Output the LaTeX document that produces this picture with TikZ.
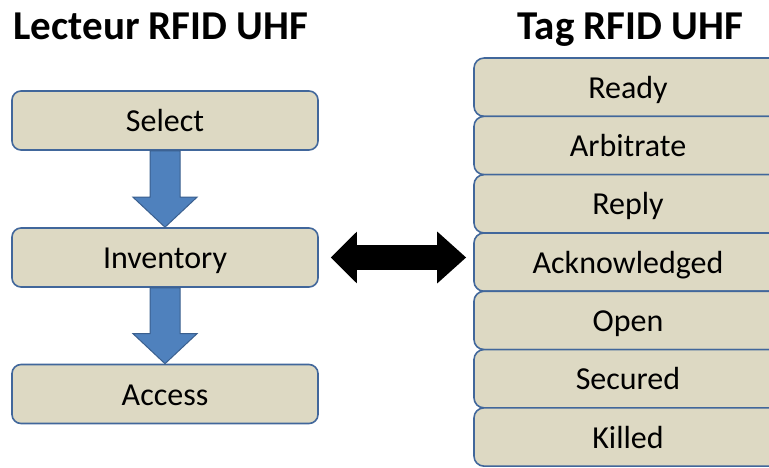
\documentclass[tikz,border=0pt]{standalone}
\usepackage{fontspec}
\setmainfont{Carlito}
\usetikzlibrary{calc,arrows.meta}

\definecolor{boxfill}{HTML}{DDD9C3}
\definecolor{boxline}{HTML}{41679B}
\definecolor{arrowfill}{HTML}{4F81BD}
\definecolor{arrowline}{HTML}{3A5F8E}

\tikzset{
    titel/.style={font=\fontsize{41}{46}\selectfont\bfseries, anchor=base},
    leser/.style={draw=boxline, fill=boxfill, line width=1.6pt, rounded corners=9pt,
        minimum width=306pt, minimum height=59pt, text height=22pt, text depth=0pt,
        font=\fontsize{32}{37}\selectfont},
    zustand/.style={draw=boxline, fill=boxfill, line width=1.6pt, rounded corners=10pt,
        minimum width=308pt, minimum height=58.3pt, text height=22pt, text depth=0pt,
        font=\fontsize{32}{37}\selectfont},
    blockpfeil/.style={draw=arrowline, fill=arrowfill, line width=1pt},
    doppelpfeil/.style={black, line width=25pt,
        {Triangle[length=26pt,width=50pt]}-{Triangle[length=29pt,width=50pt]}}
}

\begin{document}
\begin{tikzpicture}[x=1pt,y=1pt]
    \useasboundingbox (0,0) rectangle (769,467);
    \clip (0,0) rectangle (769,467);

    % Ueberschriften
    \node[titel] (tleser) at (161,427) {Lecteur RFID UHF};
    \node[titel] (ttag) at (630.5,427) {Tag RFID UHF};

    % Lesegeraet
    \node[leser] (sel) at (165,346.5) {Select};
    \node[leser] (inv) at (165,209.5) {Inventory};
    \node[leser] (acc) at (165,73) {Access};

    % Zustaende des Tags
    \foreach \name/\txt [count=\i from 0] in {rdy/Ready, arb/Arbitrate, rep/Reply,
        ack/Acknowledged, opn/Open, sec/Secured, kil/Killed}
    {
        \node[zustand] (\name) at (628,379.8-58.3*\i) {\txt};
    }

    % Pfeile zwischen den Schritten
    \foreach \a/\b in {sel/inv, inv/acc}
    {
        \draw[blockpfeil] ($(\a.south)+(-15,0)$) -- ($(\b.north)+(-15,30)$)
            -- ($(\b.north)+(-32,30)$) -- (\b.north) -- ($(\b.north)+(32,30)$)
            -- ($(\b.north)+(15,30)$) -- ($(\a.south)+(15,0)$) -- cycle;
    }

    % Kommunikation
    \coordinate (links) at ([xshift=12pt]inv.east);
    \coordinate (rechts) at ([xshift=-7pt]inv.east -| ack.west);
    \draw[doppelpfeil] (links) -- (rechts);
\end{tikzpicture}
\end{document}
